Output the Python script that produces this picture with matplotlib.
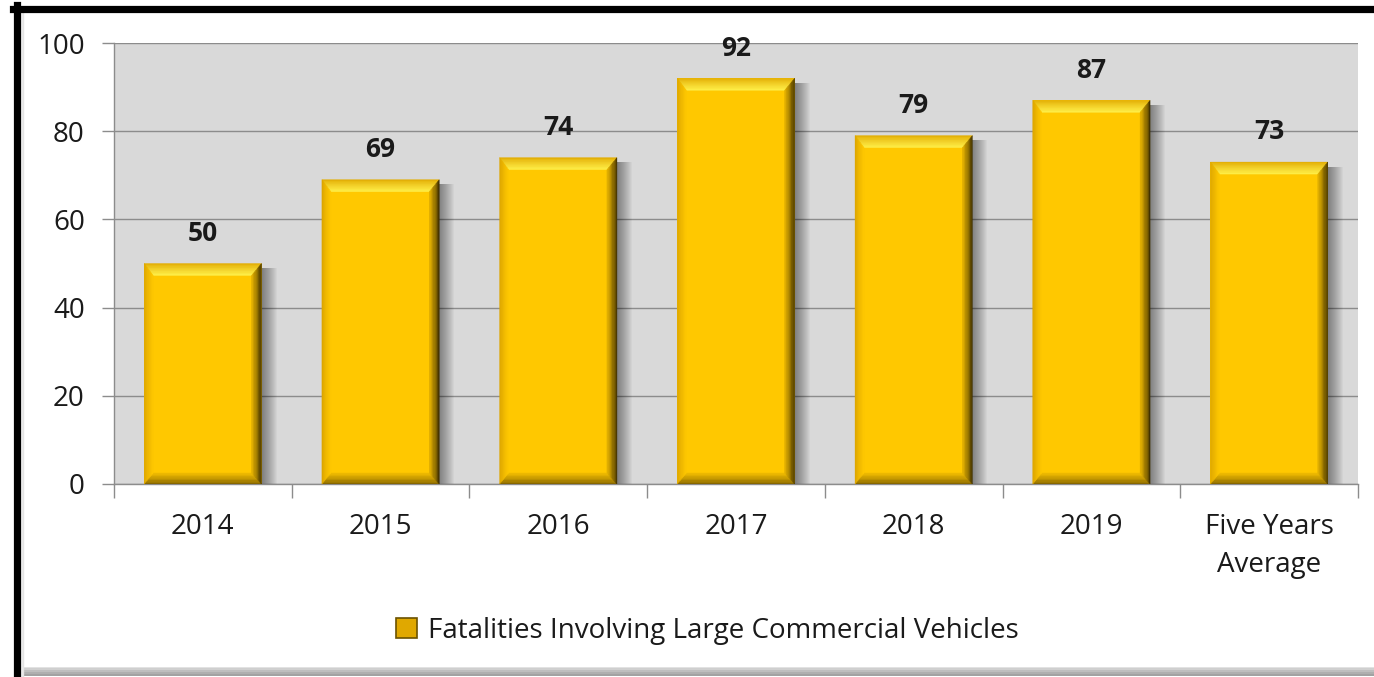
import numpy as np
import matplotlib.pyplot as plt
from matplotlib.patches import Polygon, Rectangle
from matplotlib.lines import Line2D
from matplotlib.colors import to_rgb

categories = ['2014', '2015', '2016', '2017', '2018', '2019', 'Five Years\nAverage']
values = [50, 69, 74, 92, 79, 87, 73]
series_name = 'Fatalities Involving Large Commercial Vehicles'

plt.rcParams['font.family'] = ['Open Sans', 'DejaVu Sans']

W, H = 1374, 677
fig = plt.figure(figsize=(W / 100, H / 100), dpi=100)
fig.patch.set_facecolor('white')

# plot area in pixels
L, R, T, B = 114, 1358, 43, 484
ax = fig.add_axes([L / W, 1 - B / H, (R - L) / W, (B - T) / H])
ax.set_facecolor('#d9d9d9')
ax.set_xlim(-0.5, len(categories) - 0.5)
ax.set_ylim(0, 100)

# data units per pixel
px = len(categories) / (R - L)
py = 100 / (B - T)


def mix(c1, c2, f):
    a, b = np.array(to_rgb(c1)), np.array(to_rgb(c2))
    return tuple(a + (b - a) * f)


face = '#ffc800'
# (outer, inner) colours of each bevel side
bev = {'top': ('#e0a800', '#fff04a'), 'right': ('#2e2200', '#e8b400'),
       'bottom': ('#7a5c00', '#f2bd00'), 'left': ('#d9a200', '#ffc800')}
bw = 0.66
N = 8
for i, v in enumerate(values):
    x0, x1 = i - bw / 2, i + bw / 2
    # soft shadow to the right
    for k in range(1, 16):
        ax.add_patch(Rectangle((x1, -0.6), k * px, v - 2 * py, color='black',
                               alpha=0.03, lw=0, zorder=2))
    ax.bar(i, v, width=bw, color=face, zorder=3)
    l, r, t, b = 9 * px, 10 * px, 12 * py, 11 * py

    def box(f):
        return x0 + f * l, x1 - f * r, f * b, v - f * t

    for j in range(N):
        f0, f1 = j / N, (j + 1) / N
        ax0, ax1, ab, at = box(f0)
        bx0, bx1, bb, bt = box(f1)
        fm = (j + 0.5) / N
        sides = {
            'top': [(ax0, at), (ax1, at), (bx1, bt), (bx0, bt)],
            'bottom': [(ax0, ab), (ax1, ab), (bx1, bb), (bx0, bb)],
            'left': [(ax0, ab), (ax0, at), (bx0, bt), (bx0, bb)],
            'right': [(ax1, ab), (ax1, at), (bx1, bt), (bx1, bb)],
        }
        for s, pts in sides.items():
            c = mix(bev[s][0], bev[s][1], fm ** 0.8)
            ax.add_patch(Polygon(pts, closed=True, facecolor=c, edgecolor=c,
                                 lw=0.3, zorder=4))
    ax.annotate(str(v), (i, v), xytext=(0, 12), textcoords='offset points',
                ha='center', va='bottom', fontsize=19, fontweight='bold',
                color='#1a1a1a', zorder=6)

ax.set_yticks(np.arange(0, 101, 20))
ax.yaxis.grid(True, color='#8c8c8c', lw=1)
ax.set_axisbelow(True)
ax.tick_params(axis='y', length=9, width=1, color='#8c8c8c', labelsize=20,
               labelcolor='#1a1a1a', pad=12)

ax.set_xticks(range(len(categories)))
ax.set_xticklabels(categories, linespacing=1.45)
ax.set_xticks(np.arange(-0.5, len(categories), 1), minor=True)
ax.tick_params(axis='x', which='major', length=0, labelsize=20,
               labelcolor='#1a1a1a', pad=21)
ax.tick_params(axis='x', which='minor', length=10, width=1, color='#8c8c8c')
for s in ['top', 'right']:
    ax.spines[s].set_visible(False)
for s in ['left', 'bottom']:
    ax.spines[s].set_color('#8c8c8c')
    ax.spines[s].set_linewidth(1)

handle = Rectangle((0, 0), 1, 1, facecolor='#e0a800', edgecolor='#6b5200', lw=1.2)
fig.legend([handle], [series_name], loc='center', bbox_to_anchor=(0.515, 1 - 631 / H),
           frameon=False, fontsize=20, handlelength=0.75, handleheight=0.75,
           handletextpad=0.4, labelcolor='#1a1a1a')

# outer frame: black on left/top, grey shadow at bottom
for k, g in enumerate(['#e2e2e2', '#cfcfcf', '#bdbdbd', '#adadad', '#a0a0a0']):
    fig.add_artist(Line2D([20 / W, 1], [(9.5 - k * 1.8) / H] * 2, color=g, lw=1.4))
for k, g in enumerate(['#f4f4f4', '#ececec', '#e4e4e4']):
    fig.add_artist(Line2D([(21 + k) / W] * 2, [0, 1 - 12 / H], color=g, lw=1))
fig.add_artist(Line2D([16.5 / W, 16.5 / W], [0, 1 - 5 / H], color='black', lw=5.2))
fig.add_artist(Line2D([13 / W, 1], [1 - 8.5 / H] * 2, color='black', lw=5.2))

fig.savefig('out.png', dpi=100)
